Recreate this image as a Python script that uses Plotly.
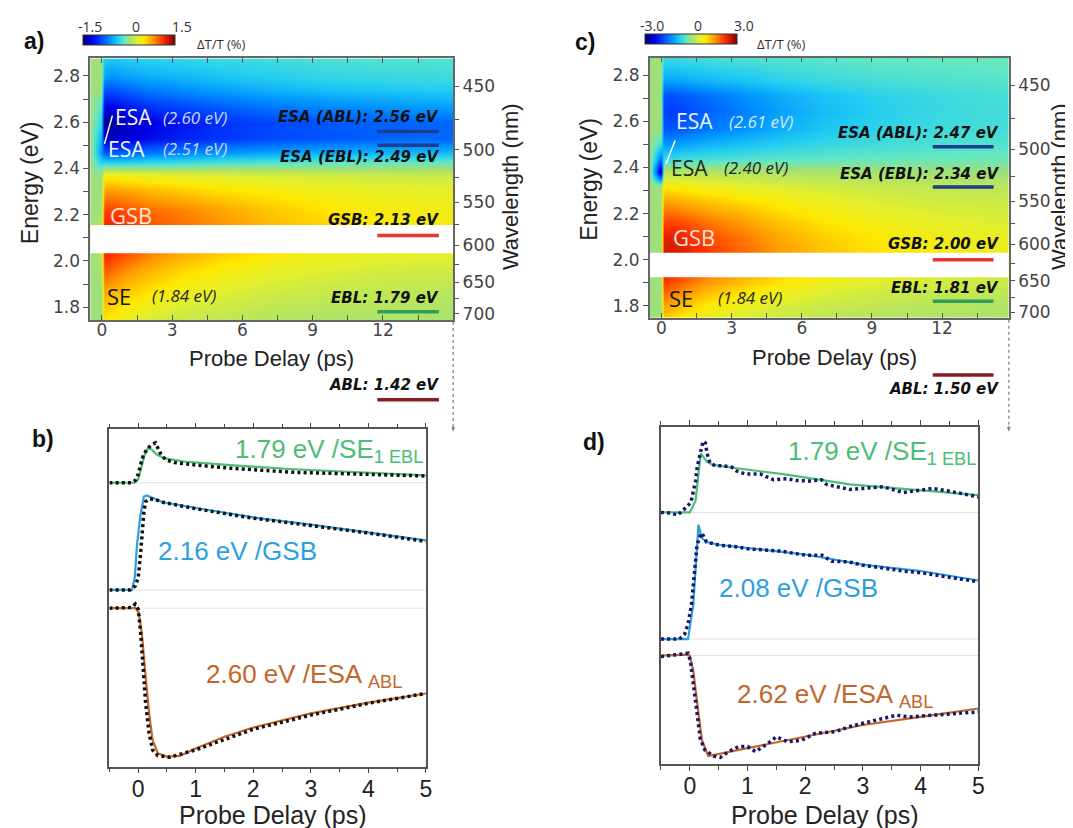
import plotly.graph_objects as go

W, H = 1073, 828


def PX(x):
    return x / W


def PY(y):
    return 1 - y / H


# ====================== DATA ======================
# ---- a) transient map, ΔT/T in % (rows = probe energy, columns = delay) ----
DELAY_MAP = [-0.5, -0.05, 0.1, 0.4, 1.0, 2.0, 3.5, 5.0, 7.0, 9.5, 12.0, 15.0]
ENERGY_A = [1.75, 1.80, 1.87, 1.95, 2.03, 2.155, 2.22, 2.30, 2.37, 2.42,
            2.47, 2.53, 2.60, 2.67, 2.74, 2.80, 2.875]
DTT_A = [
    [0, 0.00, 0.50, 0.45, 0.35, 0.25, 0.18, 0.15, 0.10, 0.08, 0.06, 0.05],
    [0, 0.00, 0.60, 0.55, 0.45, 0.35, 0.25, 0.20, 0.15, 0.12, 0.10, 0.08],
    [0, 0.00, 0.75, 0.70, 0.60, 0.50, 0.38, 0.30, 0.22, 0.18, 0.15, 0.12],
    [0, 0.05, 0.95, 0.90, 0.80, 0.66, 0.52, 0.42, 0.33, 0.27, 0.22, 0.20],
    [0, 0.10, 1.15, 1.10, 1.00, 0.85, 0.70, 0.58, 0.46, 0.38, 0.33, 0.30],
    [0, 0.10, 1.15, 1.15, 1.10, 1.00, 0.90, 0.80, 0.66, 0.55, 0.46, 0.42],
    [0, 0.00, 1.05, 1.05, 1.00, 0.92, 0.85, 0.75, 0.62, 0.50, 0.42, 0.38],
    [0, 0.00, 0.75, 0.80, 0.75, 0.68, 0.60, 0.52, 0.45, 0.38, 0.34, 0.32],
    [0, 0.00, 0.40, 0.40, 0.38, 0.34, 0.31, 0.28, 0.25, 0.22, 0.20, 0.18],
    [0, -0.30, -0.25, -0.28, -0.28, -0.25, -0.22, -0.18, -0.16, -0.14, -0.12, -0.10],
    [0, -0.60, -0.85, -0.85, -0.80, -0.72, -0.66, -0.60, -0.55, -0.50, -0.47, -0.45],
    [0, -0.50, -1.30, -1.30, -1.25, -1.15, -1.05, -0.98, -0.90, -0.85, -0.80, -0.78],
    [0, -0.30, -1.45, -1.40, -1.30, -1.20, -1.10, -1.00, -0.92, -0.85, -0.80, -0.78],
    [0, -0.20, -1.20, -1.20, -1.10, -0.98, -0.90, -0.82, -0.72, -0.65, -0.60, -0.55],
    [0, 0.00, -0.85, -0.85, -0.80, -0.70, -0.62, -0.55, -0.48, -0.42, -0.38, -0.35],
    [0, 0.00, -0.55, -0.60, -0.55, -0.50, -0.45, -0.40, -0.35, -0.30, -0.28, -0.26],
    [0, 0.00, -0.35, -0.38, -0.35, -0.32, -0.30, -0.27, -0.25, -0.22, -0.20, -0.20],
]
GAP_A = [2.033, 2.155]           # pump-scatter region removed (eV)
ZLIM_A = 1.5

# ---- c) transient map ----
ENERGY_C = [1.75, 1.80, 1.86, 1.925, 2.03, 2.10, 2.17, 2.25, 2.32, 2.38,
            2.44, 2.50, 2.57, 2.64, 2.71, 2.78, 2.875]
DTT_C = [
    [0, 0.0, 1.20, 1.10, 0.90, 0.68, 0.50, 0.38, 0.26, 0.20, 0.15, 0.12],
    [0, 0.0, 1.50, 1.40, 1.20, 0.92, 0.70, 0.52, 0.38, 0.28, 0.22, 0.18],
    [0, 0.0, 1.90, 1.80, 1.60, 1.30, 1.00, 0.78, 0.56, 0.42, 0.34, 0.28],
    [0, 0.0, 2.30, 2.20, 2.00, 1.70, 1.38, 1.10, 0.82, 0.64, 0.52, 0.44],
    [0, 0.0, 2.50, 2.50, 2.40, 2.15, 1.85, 1.55, 1.22, 0.98, 0.82, 0.74],
    [0, 0.0, 2.40, 2.40, 2.30, 2.05, 1.75, 1.45, 1.15, 0.90, 0.74, 0.66],
    [0, 0.0, 2.05, 2.05, 1.95, 1.75, 1.50, 1.22, 0.95, 0.74, 0.60, 0.52],
    [0, 0.0, 1.50, 1.50, 1.40, 1.25, 1.05, 0.88, 0.70, 0.52, 0.44, 0.38],
    [0, 0.0, 0.85, 0.85, 0.80, 0.70, 0.60, 0.52, 0.42, 0.34, 0.28, 0.24],
    [0, -2.8, 0.20, 0.20, 0.20, 0.18, 0.15, 0.12, 0.10, 0.05, 0.02, 0.00],
    [0, -1.5, -0.55, -0.55, -0.50, -0.45, -0.40, -0.36, -0.32, -0.28, -0.26, -0.24],
    [0, -0.5, -1.15, -1.15, -1.05, -0.92, -0.80, -0.68, -0.56, -0.48, -0.42, -0.38],
    [0, 0.0, -1.70, -1.70, -1.60, -1.42, -1.20, -1.00, -0.78, -0.62, -0.52, -0.48],
    [0, 0.0, -1.90, -1.90, -1.80, -1.60, -1.35, -1.10, -0.86, -0.68, -0.56, -0.50],
    [0, 0.0, -1.75, -1.75, -1.65, -1.48, -1.25, -1.02, -0.80, -0.64, -0.54, -0.46],
    [0, 0.0, -1.05, -1.05, -1.00, -0.90, -0.78, -0.65, -0.54, -0.45, -0.40, -0.36],
    [0, 0.0, -0.55, -0.55, -0.50, -0.46, -0.42, -0.38, -0.33, -0.29, -0.27, -0.25],
]
GAP_C = [1.924, 2.030]
ZLIM_C = 3.0

# ---- x ticks of the maps / right axis (wavelength) ----
MAP_DELAY_TICKS = [0, 3, 6, 9, 12]
WL_MAJOR = [450, 500, 550, 600, 650, 700]
WL_MINOR = [475, 525, 575, 625, 675]

# ---- band-edge key (text and energy of the coloured bar) ----
KEY_TEXT_A = ["ESA (ABL): 2.56 eV", "ESA (EBL): 2.49 eV", "GSB: 2.13 eV",
              "EBL: 1.79 eV", "ABL: 1.42 eV"]
KEY_BAR_E_A = [2.56, 2.50, 2.11, 1.78, 1.40]
KEY_TEXT_C = ["ESA (ABL): 2.47 eV", "ESA (EBL): 2.34 eV", "GSB: 2.00 eV",
              "EBL: 1.81 eV", "ABL: 1.50 eV"]
KEY_BAR_E_C = [2.49, 2.315, 2.00, 1.82, 1.50]
KEY_COLORS = ["#1d3d8f", "#1d3d8f", "#e8372c", "#2e9e5b", "#8c1c1c"]

# ---- b) kinetics (normalised, offset per trace) ----
B_BASE = [8.42, 5.24, 4.70]
B_T_SE_FIT = [-0.5, -0.06, 0.0, 0.05, 0.11, 0.17, 0.23, 0.31, 0.46, 0.8, 1.6, 2.7, 4.0, 5.0]
B_SE_FIT = [0, 0, 0.10, 0.44, 0.82, 1.03, 0.99, 0.85, 0.72, 0.63, 0.52, 0.40, 0.30, 0.22]
B_T_SE_DAT = [-0.5, -0.12, -0.05, 0.0, 0.04, 0.09, 0.16, 0.23, 0.30, 0.34, 0.40, 0.48,
              0.63, 1.03, 1.6, 2.7, 4.0, 5.0]
B_SE_DAT = [0, 0, 0.07, 0.25, 0.53, 0.82, 1.01, 1.12, 1.18, 1.05, 0.82, 0.68,
            0.60, 0.52, 0.43, 0.31, 0.25, 0.20]
B_T_GSB_FIT = [-0.5, -0.11, -0.06, -0.02, 0.04, 0.10, 0.15, 0.25, 0.43, 1.0, 2.0, 3.0, 4.0, 5.0]
B_GSB_FIT = [0, 0, 0.36, 1.35, 2.23, 2.77, 2.80, 2.72, 2.60, 2.43, 2.15, 1.94, 1.71, 1.47]
B_T_GSB_DAT = [-0.5, -0.14, -0.05, 0.0, 0.04, 0.07, 0.10, 0.13, 0.19, 0.28, 0.43,
               1.0, 2.0, 3.0, 4.0, 5.0]
B_GSB_DAT = [0, 0, 0.12, 0.36, 1.05, 1.74, 2.33, 2.62, 2.70, 2.69, 2.60,
             2.41, 2.13, 1.91, 1.69, 1.44]
B_T_ESA_FIT = [-0.5, -0.05, 0.01, 0.07, 0.13, 0.19, 0.25, 0.34, 0.49, 0.72, 1.0, 1.5,
               2.0, 3.0, 4.0, 5.0]
B_ESA_FIT = [0, 0, -0.13, -0.86, -2.04, -3.12, -3.91, -4.30, -4.40, -4.38, -4.16,
             -3.81, -3.54, -3.12, -2.80, -2.53]
B_T_ESA_DAT = [-0.5, -0.11, -0.05, 0.0, 0.04, 0.08, 0.13, 0.19, 0.25, 0.34, 0.55,
               1.0, 2.0, 3.0, 4.0, 5.0]
B_ESA_DAT = [0, 0.02, 0.12, -0.03, -0.67, -1.65, -2.83, -3.71, -4.20, -4.37, -4.42,
             -4.20, -3.59, -3.17, -2.82, -2.53]

# ---- d) kinetics ----
D_BASE = [7.47, 3.71, 3.22]
D_T_SE_FIT = [-0.5, 0.0, 0.1, 0.19, 0.3, 0.4, 0.81, 1.68, 2.77, 4.0, 5.0]
D_SE_FIT = [0, 0, 0.35, 1.75, 1.50, 1.41, 1.31, 1.12, 0.83, 0.66, 0.51]
D_T_SE_DAT = [-0.5, -0.34, -0.21, -0.11, -0.05, 0.02, 0.05, 0.10, 0.13, 0.18, 0.23,
              0.27, 0.30, 0.35, 0.44, 0.58, 0.73, 0.81, 0.96, 1.22, 1.45, 1.68, 1.85,
              2.08, 2.28, 2.37, 2.6, 2.77, 3.0, 3.35, 3.7, 4.0, 4.2, 4.5, 5.0]
D_SE_DAT = [0, -0.02, -0.08, 0.06, 0.17, 0.30, 0.54, 0.93, 1.36, 1.70, 2.11,
            2.06, 1.75, 1.46, 1.39, 1.38, 1.34, 1.23, 1.14, 1.14, 0.97, 1.00, 0.95,
            0.93, 0.97, 0.83, 0.73, 0.68, 0.71, 0.76, 0.59, 0.66, 0.71, 0.63, 0.46]
D_T_GSB_FIT = [-0.5, -0.03, 0.06, 0.12, 0.15, 0.21, 0.29, 0.5, 1.0, 2.0, 3.0, 4.0, 5.0]
D_GSB_FIT = [0, 0, 1.03, 2.51, 3.39, 3.00, 2.88, 2.80, 2.70, 2.51, 2.21, 2.02, 1.74]
D_T_GSB_DAT = [-0.5, -0.18, -0.09, -0.03, 0.03, 0.08, 0.12, 0.16, 0.21, 0.29, 0.53,
               0.76, 1.0, 1.58, 2.0, 2.29, 2.46, 2.76, 3.0, 3.35, 3.7, 4.0, 4.52, 5.0]
D_GSB_DAT = [0, 0, 0.15, 0.44, 1.03, 2.02, 2.70, 3.00, 3.15, 2.88, 2.78,
             2.75, 2.68, 2.61, 2.49, 2.49, 2.31, 2.29, 2.19, 2.11, 2.02, 1.97, 1.82, 1.70]
D_T_ESA_FIT = [-0.5, -0.05, 0.0, 0.06, 0.13, 0.21, 0.32, 1.0, 2.0, 3.0, 4.0, 5.0]
D_ESA_FIT = [0, 0.03, 0, -0.44, -1.43, -2.51, -2.98, -2.75, -2.41, -2.06, -1.82, -1.57]
D_T_ESA_DAT = [-0.5, -0.18, -0.03, 0.01, 0.06, 0.12, 0.18, 0.26, 0.41, 0.53, 0.67,
               0.85, 1.0, 1.14, 1.35, 1.5, 1.70, 1.94, 2.17, 2.52, 2.76, 2.99, 3.35,
               3.58, 3.81, 4.17, 4.52, 5.0]
D_ESA_DAT = [-0.03, 0.03, 0.07, -0.15, -0.74, -1.62, -2.46, -2.80, -2.98, -3.02, -2.85,
             -2.70, -2.70, -2.85, -2.61, -2.41, -2.56, -2.51, -2.31, -2.26, -2.11, -2.02,
             -1.87, -1.77, -1.82, -1.77, -1.72, -1.67]

# ====================== STYLE ======================
COLORSCALE = [[0.0, "#000078"], [0.1, "#0000e6"], [0.2, "#0048ff"], [0.3, "#0096ff"],
              [0.38, "#22cdf2"], [0.45, "#62e8c4"], [0.5, "#9ee07c"], [0.6, "#e4f02c"],
              [0.66, "#ffe800"], [0.76, "#ff9a00"], [0.87, "#ff2c00"], [1.0, "#7a0000"]]
C_SE, C_GSB, C_ESA = "#4cbd75", "#2c9fe3", "#c4662a"
SANS = "Liberation Sans"
TICKF = "DejaVu Sans"
FRAME = "#666666"
CB_DX, CB_DY = -7.0, -6.5   # compensation for plotly's internal colourbar offset (px)

fig = go.Figure()
shapes = []
annotations = []
layout_axes = {}


def text_at(x, y, text, size, color, family=SANS, xanchor="center", yanchor="middle", angle=0):
    annotations.append(dict(x=PX(x), y=PY(y), xref="paper", yref="paper", text=text,
                            showarrow=False, xanchor=xanchor, yanchor=yanchor, textangle=angle,
                            font=dict(family=family, size=size, color=color)))


# ---------- map panels ----------
MAPS = [
    dict(E=ENERGY_A, Z=DTT_A, zl=ZLIM_A, gap=GAP_A, xa="x", ya="y", ya2="y2",
         xdom=[82.7, 447.7], ydom=[50.7, 314.0], xr=[-0.5, 15.0], yr=[1.744, 2.876],
         cb=[82.7, 175.0, 33.3], cbt=["-1.5", "0", "1.5"], cbtitle=(188, 36),
         key=KEY_TEXT_A, keyE=KEY_BAR_E_A, keyx=[11.76, 14.39], keytx=435.7,
         keyty=[110.0, 150.0, 213.3, 291.7, 379.0],
         tE=(22.4, 176), tW=(506, 180), tX=(265, 353)),
    dict(E=ENERGY_C, Z=DTT_C, zl=ZLIM_C, gap=GAP_C, xa="x2", ya="y3", ya2="y4",
         xdom=[645.4, 1006.4], ydom=[50.0, 311.7], xr=[-0.5, 14.85], yr=[1.748, 2.876],
         cb=[648.0, 740.0, 32.3], cbt=["-3.0", "0", "3.0"], cbtitle=(751, 36),
         key=KEY_TEXT_C, keyE=KEY_BAR_E_C, keyx=[11.6, 14.2], keytx=999.0,
         keyty=[126.0, 166.7, 237.7, 281.7, 383.3],
         tE=(584, 172), tW=(1058, 180), tX=(831, 352)),
]

for m in MAPS:
    cbx0, cbx1, cby = m["cb"]
    fig.add_trace(go.Heatmap(
        x=DELAY_MAP, y=m["E"], z=m["Z"], zmin=-m["zl"], zmax=m["zl"],
        colorscale=COLORSCALE, zsmooth="best", xaxis=m["xa"], yaxis=m["ya"],
        hoverinfo="skip",
        colorbar=dict(orientation="h", x=PX(cbx0 + CB_DX), xanchor="left", y=PY(cby + CB_DY),
                      yanchor="top", len=cbx1 - cbx0, lenmode="pixels", thickness=10,
                      thicknessmode="pixels", xpad=0, ypad=0, outlinewidth=1,
                      outlinecolor="#333", showticklabels=False, ticks=""),
    ))
    # invisible trace so the wavelength axis is attached to data
    fig.add_trace(go.Scatter(x=[None], y=[None], xaxis=m["xa"], yaxis=m["ya2"],
                             mode="lines", hoverinfo="skip", showlegend=False))
    # colourbar tick labels above the bar and its title at the right
    for v, lab in zip([-m["zl"], 0.0, m["zl"]], m["cbt"]):
        xx = cbx0 + (v + m["zl"]) / (2 * m["zl"]) * (cbx1 - cbx0)
        text_at(xx, cby - 3.5, lab, 14, "#333", family="Open Sans", yanchor="bottom")
    text_at(m["cbtitle"][0], m["cbtitle"][1], "ΔT/T (%)", 13, "#333", family="Open Sans",
            xanchor="left")
    xn = m["xa"][1:]
    yn = m["ya"][1:]
    yn2 = m["ya2"][1:]
    layout_axes["xaxis" + xn] = dict(
        domain=[PX(m["xdom"][0]), PX(m["xdom"][1])], range=m["xr"], anchor=m["ya"],
        tickmode="array", tickvals=MAP_DELAY_TICKS, ticks="inside", ticklen=5,
        tickcolor="#555", tickwidth=1.2, ticklabelstandoff=-6,
        minor=dict(dtick=1.5, tick0=0, ticks="inside", ticklen=4, tickcolor="#555"),
        showline=True, linecolor=FRAME, linewidth=1.5, mirror="allticks",
        showgrid=False, zeroline=False,
        tickfont=dict(family=TICKF, size=17, color="#444"))
    layout_axes["yaxis" + yn] = dict(
        domain=[PY(m["ydom"][1]), PY(m["ydom"][0])], range=m["yr"], anchor=m["xa"],
        tick0=0, dtick=0.2, tickformat=".1f", ticks="outside", ticklen=5, tickcolor="#555",
        minor=dict(dtick=0.1, tick0=0, ticks="outside", ticklen=5, tickcolor="#555"),
        showline=True, linecolor=FRAME, linewidth=1.5, mirror=True,
        showgrid=False, zeroline=False,
        tickfont=dict(family=TICKF, size=17, color="#444"))
    layout_axes["yaxis" + yn2] = dict(
        overlaying=m["ya"], side="right", anchor=m["xa"], range=m["yr"],
        tickmode="array", tickvals=[1240.0 / w for w in WL_MAJOR],
        ticktext=[str(w) for w in WL_MAJOR],
        ticks="outside", ticklen=5, tickcolor="#555",
        minor=dict(tickmode="array", tickvals=[1240.0 / w for w in WL_MINOR], ticks="outside",
                   ticklen=5, tickcolor="#555"),
        showline=False, showgrid=False, zeroline=False,
        tickfont=dict(family=TICKF, size=17, color="#444"))
    # axis titles
    text_at(*m["tE"], "Energy (eV)", 23, "#222", angle=-90)
    text_at(*m["tW"], "Wavelength (nm)", 22, "#222", angle=-90)
    text_at(*m["tX"], "Probe Delay (ps)", 22, "#222")

    # removed pump-scatter band
    shapes.append(dict(type="rect", xref=m["xa"], yref=m["ya"], x0=m["xr"][0], x1=m["xr"][1],
                       y0=m["gap"][0], y1=m["gap"][1], fillcolor="white", line=dict(width=0),
                       layer="above"))
    # key bars (axis-domain units so the ABL bar can sit below the frame)
    xspan = m["xr"][1] - m["xr"][0]
    yspan = m["yr"][1] - m["yr"][0]
    for E, col in zip(m["keyE"], KEY_COLORS):
        yd = (E - m["yr"][0]) / yspan
        shapes.append(dict(type="line", xref=m["xa"] + " domain", yref=m["ya"] + " domain",
                           x0=(m["keyx"][0] - m["xr"][0]) / xspan,
                           x1=(m["keyx"][1] - m["xr"][0]) / xspan,
                           y0=yd, y1=yd, line=dict(color=col, width=3.5)))
    for txt, ty in zip(m["key"], m["keyty"]):
        text_at(m["keytx"], ty, "<b><i>" + txt + "</i></b>", 15, "#111",
                family="DejaVu Sans", xanchor="right")
    # dotted guide at the right of the map
    xr_px = m["xdom"][1]
    shapes.append(dict(type="line", xref="paper", yref="paper", x0=PX(xr_px), x1=PX(xr_px),
                       y0=PY(m["ydom"][1] + 2), y1=PY(421),
                       line=dict(color="#999", width=1.5, dash="dot")))
    annotations.append(dict(x=PX(xr_px), y=PY(426), xref="paper", yref="paper", text="",
                            showarrow=True, ax=0, ay=-7, arrowhead=2, arrowsize=0.7,
                            arrowwidth=1.2, arrowcolor="#888"))


# ---------- in-map labels ----------
def lab(x, y, text, size, color, italic=False):
    t = "<i>" + text + "</i>" if italic else text
    text_at(x, y, t, size, color, family="Open Sans", xanchor="left")


# a)
lab(106, 110.0, "ESA", 21, "#f4f6ff")
lab(154, 110.0, "(2.60 eV)", 17, "#cdd6ff", italic=True)
lab(99, 141.7, "ESA", 21, "#f4f6ff")
lab(154, 141.7, "(2.51 eV)", 17, "#cdd6ff", italic=True)
lab(101, 208.3, "GSB", 22, "#ffe4da")
lab(98, 289.3, "SE", 22, "#151515")
lab(143, 289.3, "(1.84 eV)", 17, "#262626", italic=True)
shapes.append(dict(type="line", xref="paper", yref="paper", x0=PX(97), y0=PY(136.7),
                   x1=PX(105), y1=PY(108.3), line=dict(color="white", width=1.5)))
# c)
lab(670, 113.3, "ESA", 21, "#eef3ff")
lab(723, 114.3, "(2.61 eV)", 17, "#d6e6ff", italic=True)
lab(665, 160.7, "ESA", 21, "#1d2a1d")
lab(718, 160.7, "(2.40 eV)", 17, "#222222", italic=True)
lab(667, 230.7, "GSB", 22, "#ffe4da")
lab(663, 291.7, "SE", 22, "#151515")
lab(712, 291.7, "(1.84 eV)", 17, "#262626", italic=True)
shapes.append(dict(type="line", xref="paper", yref="paper", x0=PX(661.7), y0=PY(156.7),
                   x1=PX(670.9), y1=PY(133.3), line=dict(color="white", width=1.5)))

# ---------- kinetics panels ----------
KIN = [
    dict(xa="x3", ya="y5", xdom=[102.0, 420.2], ydom=[424.0, 763.3], base=B_BASE, dot="#111111",
         tx=266,
         series=[(B_T_SE_FIT, B_SE_FIT, B_T_SE_DAT, B_SE_DAT, C_SE),
                 (B_T_GSB_FIT, B_GSB_FIT, B_T_GSB_DAT, B_GSB_DAT, C_GSB),
                 (B_T_ESA_FIT, B_ESA_FIT, B_T_ESA_DAT, B_ESA_DAT, C_ESA)]),
    dict(xa="x4", ya="y6", xdom=[656.6, 975.8], ydom=[421.7, 760.7], base=D_BASE, dot="#15186a",
         tx=822,
         series=[(D_T_SE_FIT, D_SE_FIT, D_T_SE_DAT, D_SE_DAT, C_SE),
                 (D_T_GSB_FIT, D_GSB_FIT, D_T_GSB_DAT, D_GSB_DAT, C_GSB),
                 (D_T_ESA_FIT, D_ESA_FIT, D_T_ESA_DAT, D_ESA_DAT, C_ESA)]),
]
for k in KIN:
    for b in k["base"]:
        shapes.append(dict(type="line", xref=k["xa"] + " domain", yref=k["ya"], x0=0, x1=1,
                           y0=b, y1=b, line=dict(color="#e2e2e2", width=1), layer="below"))
    for (tf, vf, td, vd, col), b in zip(k["series"], k["base"]):
        fig.add_trace(go.Scatter(x=tf, y=[b + v for v in vf], mode="lines",
                                 line=dict(color=col, width=2.2), xaxis=k["xa"], yaxis=k["ya"],
                                 hoverinfo="skip"))
        fig.add_trace(go.Scatter(x=td, y=[b + v for v in vd], mode="lines",
                                 line=dict(color=k["dot"], width=3.5, dash="3px,3.2px"),
                                 xaxis=k["xa"], yaxis=k["ya"], hoverinfo="skip"))
    xn = k["xa"][1:]
    yn = k["ya"][1:]
    layout_axes["xaxis" + xn] = dict(
        domain=[PX(k["xdom"][0]), PX(k["xdom"][1])], range=[-0.5, 5], anchor=k["ya"],
        tick0=0, dtick=1, ticks="outside", ticklen=5, tickcolor="#444", tickwidth=1.3,
        minor=dict(dtick=0.5, tick0=0, ticks="outside", ticklen=4, tickcolor="#444"),
        showline=True, linecolor="#555", linewidth=1.5, mirror="allticks",
        showgrid=False, zeroline=False, ticklabelstandoff=-4,
        tickfont=dict(family=SANS, size=23, color="#222"))
    layout_axes["yaxis" + yn] = dict(
        domain=[PY(k["ydom"][1]), PY(k["ydom"][0])], range=[0, 10], anchor=k["xa"],
        showticklabels=False, ticks="", showline=True, linecolor="#555", linewidth=1.5,
        mirror=True, showgrid=False, zeroline=False)
    text_at(k["tx"], 828, "Probe Delay (ps)", 25, "#222", yanchor="bottom")


def klab(x, y, text, color):
    text_at(x, y, text, 26, color, xanchor="left")


klab(226, 445.0, "1.79 eV /SE<sub>1 EBL</sub>", C_SE)
klab(149, 546.7, "2.16 eV /GSB", C_GSB)
klab(197, 672.0, "2.60 eV /ESA <sub>ABL</sub>", C_ESA)
klab(782, 446.7, "1.79 eV /SE<sub>1 EBL</sub>", C_SE)
klab(713, 583.3, "2.08 eV /GSB", C_GSB)
klab(731, 692.0, "2.62 eV /ESA <sub>ABL</sub>", C_ESA)

# panel letters
for x, y, t in [(26, 33.3, "a)"), (35, 433.3, "b)"), (580, 34, "c)"), (589, 437, "d)")]:
    text_at(x, y, "<b>" + t + "</b>", 23, "#111")

fig.update_layout(
    width=W, height=H, margin=dict(l=0, r=0, t=0, b=0),
    paper_bgcolor="white", plot_bgcolor="white", showlegend=False,
    font=dict(family=SANS, color="#222"),
    shapes=shapes, annotations=annotations, **layout_axes)

fig.write_html("out.html")
